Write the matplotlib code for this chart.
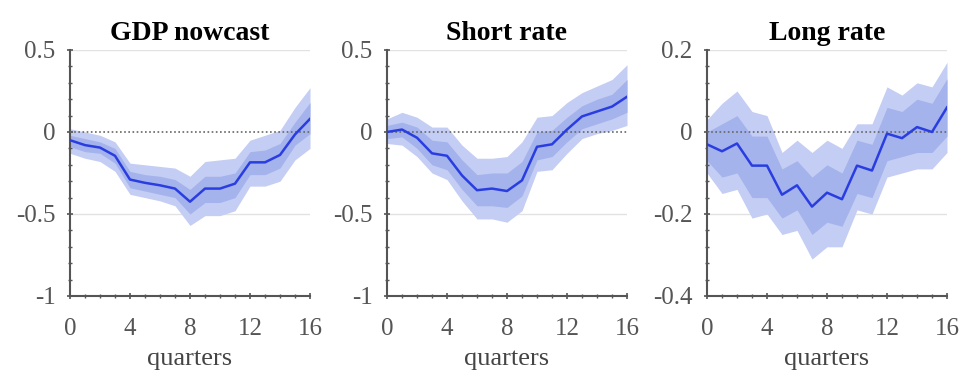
import numpy as np
import matplotlib.pyplot as plt
from matplotlib.ticker import MultipleLocator

quarters = np.arange(17)
titles = ["GDP nowcast", "Short rate", "Long rate"]

# GDP nowcast
gdp_med = [-0.05, -0.08, -0.095, -0.145, -0.29, -0.31, -0.325, -0.345, -0.425,
           -0.345, -0.345, -0.315, -0.185, -0.185, -0.14, -0.015, 0.08]
gdp_in_hi = [-0.02, -0.04, -0.06, -0.10, -0.24, -0.26, -0.27, -0.29, -0.35,
             -0.27, -0.27, -0.25, -0.12, -0.11, -0.07, 0.06, 0.18]
gdp_in_lo = [-0.09, -0.12, -0.13, -0.19, -0.34, -0.36, -0.38, -0.40, -0.50,
             -0.43, -0.43, -0.40, -0.26, -0.26, -0.22, -0.08, -0.01]
gdp_out_hi = [0.02, 0.0, -0.02, -0.06, -0.19, -0.20, -0.21, -0.22, -0.27,
              -0.18, -0.17, -0.16, -0.05, -0.02, 0.01, 0.15, 0.27]
gdp_out_lo = [-0.13, -0.16, -0.18, -0.24, -0.38, -0.40, -0.42, -0.45, -0.57,
              -0.51, -0.51, -0.48, -0.33, -0.33, -0.30, -0.17, -0.10]

# Short rate
sr_med = [0.0, 0.015, -0.035, -0.13, -0.145, -0.265, -0.355, -0.345, -0.36,
          -0.295, -0.09, -0.075, 0.015, 0.095, 0.125, 0.155, 0.215]
sr_in_hi = [0.04, 0.06, 0.03, -0.05, -0.06, -0.17, -0.26, -0.25, -0.25,
            -0.18, 0.0, 0.01, 0.09, 0.16, 0.20, 0.23, 0.32]
sr_in_lo = [-0.04, -0.03, -0.10, -0.20, -0.23, -0.35, -0.45, -0.45, -0.46,
            -0.39, -0.17, -0.15, -0.06, 0.02, 0.05, 0.08, 0.12]
sr_out_hi = [0.08, 0.12, 0.09, 0.03, 0.03, -0.08, -0.16, -0.16, -0.15,
             -0.06, 0.09, 0.10, 0.18, 0.24, 0.28, 0.32, 0.41]
sr_out_lo = [-0.07, -0.08, -0.15, -0.25, -0.29, -0.42, -0.53, -0.53, -0.55,
             -0.48, -0.24, -0.23, -0.13, -0.04, -0.01, 0.01, 0.04]

# Long rate
lr_med = [-0.03, -0.047, -0.028, -0.082, -0.082, -0.153, -0.13, -0.182, -0.148,
          -0.164, -0.082, -0.094, -0.004, -0.015, 0.012, 0.0, 0.06]
lr_in_hi = [0.0, 0.02, 0.04, -0.01, -0.01, -0.09, -0.07, -0.11, -0.08,
            -0.10, -0.02, -0.03, 0.06, 0.05, 0.08, 0.07, 0.13]
lr_in_lo = [-0.07, -0.11, -0.10, -0.16, -0.16, -0.21, -0.19, -0.25, -0.22,
            -0.23, -0.15, -0.16, -0.07, -0.06, -0.05, -0.05, -0.01]
lr_out_hi = [0.03, 0.07, 0.10, 0.05, 0.04, -0.05, -0.02, -0.05, -0.02,
             -0.04, 0.02, 0.02, 0.11, 0.09, 0.12, 0.11, 0.17]
lr_out_lo = [-0.10, -0.15, -0.14, -0.21, -0.20, -0.25, -0.24, -0.31, -0.28,
             -0.28, -0.19, -0.20, -0.11, -0.10, -0.09, -0.09, -0.05]

series = [
    (gdp_med, gdp_in_lo, gdp_in_hi, gdp_out_lo, gdp_out_hi),
    (sr_med, sr_in_lo, sr_in_hi, sr_out_lo, sr_out_hi),
    (lr_med, lr_in_lo, lr_in_hi, lr_out_lo, lr_out_hi),
]
ylims = [(-1, 0.5), (-1, 0.5), (-0.4, 0.2)]
yticks = [[-1, -0.5, 0, 0.5], [-1, -0.5, 0, 0.5], [-0.4, -0.2, 0, 0.2]]
ytick_labels = [["-1", "-0.5", "0", "0.5"], ["-1", "-0.5", "0", "0.5"],
                ["-0.4", "-0.2", "0", "0.2"]]
yminor = [0.1, 0.1, 0.04]

plt.rcParams['font.family'] = ['Liberation Serif', 'DejaVu Serif']

fig = plt.figure(figsize=(9.62, 3.81), dpi=100)
lefts = [70, 387, 707]
axis_col = "#555555"

for i in range(3):
    ax = fig.add_axes([lefts[i] / 962, 1 - 296 / 381, 240 / 962, 246 / 381])
    med, in_lo, in_hi, out_lo, out_hi = series[i]
    for y in yticks[i][1:]:
        if y != 0:
            ax.axhline(y, color="#e2e2e2", lw=1, zorder=0)
    ax.fill_between(quarters, out_lo, out_hi, color="#c4cdf3", lw=0, zorder=1)
    ax.fill_between(quarters, in_lo, in_hi, color="#a5b3ec", lw=0, zorder=2)
    ax.axhline(0, color="#666666", lw=1.2, ls=(0, (1, 1.5)), zorder=3)
    ax.plot(quarters, med, color="#2a3de0", lw=1.8, zorder=4)

    ax.set_xlim(0, 16)
    ax.set_ylim(*ylims[i])
    ax.set_xticks([0, 4, 8, 12, 16])
    ax.xaxis.set_minor_locator(MultipleLocator(1))
    ax.set_yticks(yticks[i])
    ax.set_yticklabels(ytick_labels[i])
    ax.yaxis.set_minor_locator(MultipleLocator(yminor[i]))

    for s in ["top", "right"]:
        ax.spines[s].set_visible(False)
    for s in ["left", "bottom"]:
        ax.spines[s].set_color(axis_col)
        ax.spines[s].set_linewidth(1.5)
    ax.tick_params(axis="both", which="major", direction="inout", length=5,
                   width=1.2, color=axis_col, labelsize=18, labelcolor="#555555")
    ax.tick_params(axis="both", which="minor", direction="inout", length=3,
                   width=1, color=axis_col)
    ax.tick_params(axis="x", which="major", pad=13)
    ax.tick_params(axis="y", which="major", pad=8)

    ax.set_title(titles[i], fontsize=20, fontweight="bold", pad=7)
    ax.set_xlabel("quarters", fontsize=19, color="#444444", labelpad=6)

fig.savefig("out.png", dpi=100)
